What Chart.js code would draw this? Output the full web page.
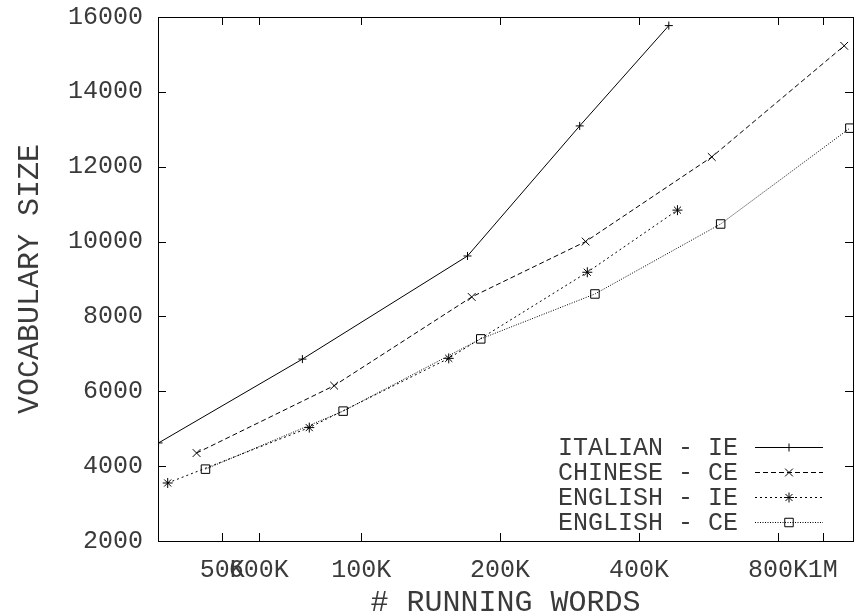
<!DOCTYPE html>
<html>
<head>
<meta charset="utf-8">
<title>Vocabulary size vs running words</title>
<style>
  html, body { margin: 0; padding: 0; background: #fff; overflow: hidden; }
  /* plot box runs 2px past the window on the right, like the cropped original */
  #vocabChart { display: block; }
</style>
<script src="https://cdn.jsdelivr.net/npm/chart.js@4.4.1/dist/chart.umd.min.js"></script>
</head>
<body>
<canvas id="vocabChart" width="860" height="615"></canvas>
<script>
// values: running words (x, log scale) vs vocabulary size (y)
const italianIEWords = [36400, 74600, 170000, 297500, 464000];
const italianIEVocab = [4620, 6860, 9615, 13090, 15770];

const chineseCEWords = [44000, 87400, 173600, 306500, 575000, 1113000];
const chineseCEVocab = [4350, 6150, 8520, 10000, 12260, 15230];

const englishIEWords = [38100, 77200, 154800, 309000, 484500];
const englishIEVocab = [3550, 5030, 6880, 9180, 10840];

const englishCEWords = [46000, 91400, 181600, 321000, 601000, 1145000];
const englishCEVocab = [3920, 5470, 7400, 8600, 10470, 13030];

const seriesLabels = ["ITALIAN - IE", "CHINESE - CE", "ENGLISH - IE", "ENGLISH - CE"];

const xTickValues = [50000, 60000, 100000, 200000, 400000, 800000, 1000000];
const xTickLabels = ["50K", "600K", "100K", "200K", "400K", "800K", "1M"];
const yTickValues = [2000, 4000, 6000, 8000, 10000, 12000, 14000, 16000];

const X_MIN = 36300;
const X_MAX = 1163000;

const FONT = "'Liberation Mono', 'DejaVu Sans Mono', monospace";
const INK = "#3a3a3a";

function toPoints(xs, ys) {
  return xs.map((x, i) => ({ x: x, y: ys[i] }));
}

function lineStyle(label, pts, dash, pointStyle, radius) {
  return {
    label: label,
    data: pts,
    borderColor: "#000",
    borderWidth: 1,
    borderDash: dash,
    pointStyle: pointStyle,
    pointRadius: radius,
    pointHoverRadius: radius,
    pointBorderColor: "#000",
    pointBackgroundColor: "rgba(0,0,0,0)",
    pointBorderWidth: 1,
    tension: 0,
    fill: false,
  };
}

// frame on all four sides plus inward gnuplot-style ticks
const frameTicks = {
  id: "frameTicks",
  afterDraw(chart) {
    const { ctx, chartArea: a, scales } = chart;
    const len = 8;
    ctx.save();
    ctx.strokeStyle = "#000";
    ctx.lineWidth = 1;
    ctx.beginPath();
    xTickValues.forEach((v) => {
      const x = Math.round(scales.x.getPixelForValue(v)) + 0.5;
      ctx.moveTo(x, a.bottom); ctx.lineTo(x, a.bottom - len);
      ctx.moveTo(x, a.top); ctx.lineTo(x, a.top + len);
    });
    yTickValues.forEach((v) => {
      const y = Math.round(scales.y.getPixelForValue(v)) + 0.5;
      ctx.moveTo(a.left, y); ctx.lineTo(a.left + len, y);
      ctx.moveTo(a.right, y); ctx.lineTo(a.right - len, y);
    });
    ctx.stroke();
    ctx.strokeRect(Math.round(a.left) + 0.5, Math.round(a.top) + 0.5,
                   Math.round(a.right - a.left), Math.round(a.bottom - a.top));
    ctx.restore();
  }
};

// key in the lower right corner, text then line sample with marker
const keyBox = {
  id: "keyBox",
  afterDatasetsDraw(chart) {
    const { ctx, chartArea: a } = chart;
    ctx.save();
    ctx.font = "25px " + FONT;
    ctx.textAlign = "right";
    ctx.textBaseline = "middle";
    chart.data.datasets.forEach((ds, i) => {
      const y = a.bottom - 94 + 25 * i;
      ctx.fillStyle = INK;
      ctx.fillText(ds.label, a.right - 115, y + 1);
      ctx.strokeStyle = ds.borderColor;
      ctx.lineWidth = ds.borderWidth;
      ctx.setLineDash(ds.borderDash);
      ctx.beginPath();
      ctx.moveTo(a.right - 98, y + 0.5);
      ctx.lineTo(a.right - 30, y + 0.5);
      ctx.stroke();
      ctx.setLineDash([]);
      ctx.fillStyle = "rgba(0,0,0,0)";
      ctx.strokeStyle = "#000";
      Chart.helpers.drawPoint(ctx, {
        pointStyle: ds.pointStyle,
        radius: ds.pointRadius,
        rotation: 0,
        borderWidth: 1,
      }, a.right - 64, y + 0.5);
    });
    ctx.restore();
  }
};

const ctx = document.getElementById("vocabChart").getContext("2d");
new Chart(ctx, {
  type: "line",
  data: {
    datasets: [
      lineStyle(seriesLabels[0], toPoints(italianIEWords, italianIEVocab), [], "cross", 4),
      lineStyle(seriesLabels[1], toPoints(chineseCEWords, chineseCEVocab), [5, 3], "crossRot", 5.5),
      lineStyle(seriesLabels[2], toPoints(englishIEWords, englishIEVocab), [2, 3], "star", 5),
      lineStyle(seriesLabels[3], toPoints(englishCEWords, englishCEVocab), [1, 1.5], "rect", 6),
    ],
  },
  options: {
    responsive: false,
    animation: false,
    events: [],
    layout: { padding: { top: 17, left: 12, right: 0, bottom: 0 } },
    plugins: { legend: { display: false }, tooltip: { enabled: false } },
    scales: {
      x: {
        type: "logarithmic",
        min: X_MIN,
        max: X_MAX,
        afterBuildTicks(scale) {
          scale.ticks = xTickValues.map((v) => ({ value: v }));
        },
        afterFit(scale) {
          scale.height = 74;
          scale.paddingLeft = 0;
          scale.paddingRight = 0;
        },
        ticks: {
          autoSkip: false,
          maxRotation: 0,
          padding: 17,
          color: INK,
          font: { family: FONT, size: 25, lineHeight: 1 },
          callback: (v) => xTickLabels[xTickValues.indexOf(v)] || "",
        },
        grid: { display: false, drawTicks: false },
        border: { display: false },
        title: {
          display: true,
          text: "# RUNNING WORDS",
          color: INK,
          font: { family: FONT, size: 30, lineHeight: 1 },
          padding: { top: 3, bottom: -3 },
        },
      },
      y: {
        type: "linear",
        min: 2000,
        max: 16000,
        afterBuildTicks(scale) {
          scale.ticks = yTickValues.map((v) => ({ value: v }));
        },
        afterFit(scale) {
          scale.width = 146;
          scale.paddingTop = 0;
          scale.paddingBottom = 0;
        },
        ticks: {
          padding: 15,
          color: INK,
          font: { family: FONT, size: 25, lineHeight: 1 },
          callback: (v) => String(v),
        },
        grid: { display: false, drawTicks: false },
        border: { display: false },
        title: {
          display: true,
          text: "VOCABULARY SIZE",
          color: INK,
          font: { family: FONT, size: 30, lineHeight: 1.2 },
          padding: { top: 0, bottom: 20 },
        },
      },
    },
  },
  plugins: [frameTicks, keyBox],
});
</script>
</body>
</html>
